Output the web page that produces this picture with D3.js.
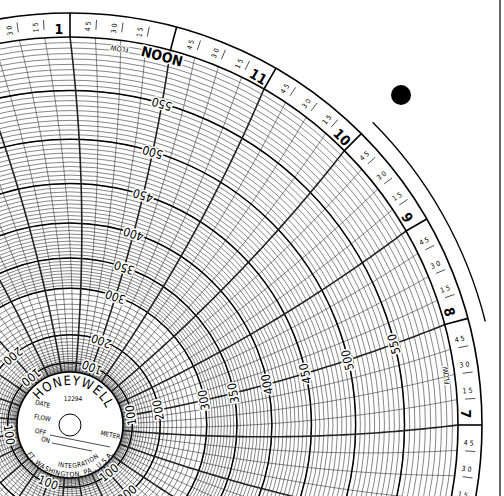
<!doctype html>
<html>
<head>
<meta charset="utf-8">
<script src="https://cdnjs.cloudflare.com/ajax/libs/d3/7.8.5/d3.min.js"></script>
<style>
  body { margin: 0; background: #fff; }
  text { font-family: "DejaVu Sans Condensed", "DejaVu Sans", sans-serif; fill: #000; }
</style>
</head>
<body>
<div id="chart"></div>
<script>
// chart values
var valueLabels = [100, 200, 300, 350, 400, 450, 500, 550];
var valueMax = 600;
var hourNames = ["1","2","3","4","5","6","7","8","9","10","11","NOON",
                 "1","2","3","4","5","6","7","8","9","10","11","MIDNIGHT"];
var hourValues = d3.range(1, 25);          // 1..24
var minuteLabels = ["15", "30", "45"];
var labelEveryHours = [12, 8, 4, 24, 20, 16]; // time lines carrying value labels

var W = 504, H = 496;
var cx = 70, cy = 425;
var hubR = 53, gridR = 388, ringR = 412, armR = 1600;

var svg = d3.select("#chart").append("svg").attr("width", W).attr("height", H);
var g = svg.append("g");

// scales
var r = d3.scalePow().exponent(2).domain([0, valueMax]).range([hubR, gridR]);
// hour -> angle in degrees, clockwise from top (1 o'clock at top, time runs counter-clockwise)
var ang = d3.scaleLinear().domain([13, 12]).range([0, 15]);

function pt(rad, deg) {
  var a = deg * Math.PI / 180;
  return [cx + rad * Math.sin(a), cy - rad * Math.cos(a)];
}
// pen arm curvature offset
function arm(rad) {
  return (Math.asin(gridR / (2 * armR)) - Math.asin(rad / (2 * armR))) * 180 / Math.PI;
}
function timeLine(deg) {
  var pts = d3.range(hubR, gridR + 0.5, 4).concat([gridR]).map(function(rr) {
    return pt(rr, deg + arm(rr));
  });
  return d3.line()(pts);
}

// value circles
var minor = d3.range(20, 300, 10).concat(d3.range(300, valueMax, 5));
g.selectAll(".vmin").data(minor).enter().append("circle")
  .attr("cx", cx).attr("cy", cy).attr("r", function(d) { return r(d); })
  .attr("fill", "none").attr("stroke", "#222").attr("stroke-width", 0.55);
g.selectAll(".vmaj").data(valueLabels).enter().append("circle")
  .attr("cx", cx).attr("cy", cy).attr("r", function(d) { return r(d); })
  .attr("fill", "none").attr("stroke", "#000").attr("stroke-width", 1.5);

// time lines every 15 minutes
var quarters = d3.range(0, 24, 0.25);
g.selectAll(".tmin").data(quarters).enter().append("path")
  .attr("d", function(d) { return timeLine(d * 15); })
  .attr("fill", "none").attr("stroke", "#222")
  .attr("stroke-width", function(d) { return d % 1 === 0 ? 1.6 : 0.55; });

// outer ring
[gridR, ringR].forEach(function(rr) {
  g.append("circle").attr("cx", cx).attr("cy", cy).attr("r", rr)
    .attr("fill", "none").attr("stroke", "#000").attr("stroke-width", 1.6);
});
g.append("path")
  .attr("d", d3.arc().innerRadius(428).outerRadius(428).startAngle(45 * Math.PI / 180).endAngle(76 * Math.PI / 180)())
  .attr("transform", "translate(" + cx + "," + cy + ")")
  .attr("fill", "none").attr("stroke", "#000").attr("stroke-width", 1.4);

// hour ticks and names
hourValues.forEach(function(h) {
  var deg = ang(h);
  var p1 = pt(gridR, deg), p2 = pt(ringR, deg);
  g.append("line").attr("x1", p1[0]).attr("y1", p1[1]).attr("x2", p2[0]).attr("y2", p2[1])
    .attr("stroke", "#000").attr("stroke-width", 1.6);
  var name = hourNames[h - 1];
  var isWord = name.length > 2;
  var lp = pt(isWord ? gridR - 9 : gridR + 7, deg - (isWord ? 1 : 1.6));
  g.append("text").attr("x", lp[0]).attr("y", lp[1])
    .attr("transform", "rotate(" + deg + "," + lp[0] + "," + lp[1] + ")")
    .attr("text-anchor", "middle").attr("dominant-baseline", "middle")
    .attr("font-size", isWord ? 14 : 14).attr("font-weight", "bold")
    .attr("stroke", "#fff").attr("stroke-width", isWord ? 3 : 0).attr("paint-order", "stroke")
    .text(name);
  // minute marks inside the ring
  minuteLabels.forEach(function(m, j) {
    var md = deg - (j + 1) * 15 / 4;
    var t1 = pt(gridR + 8, md), t2 = pt(ringR - 6, md);
    g.append("line").attr("x1", t1[0]).attr("y1", t1[1]).attr("x2", t2[0]).attr("y2", t2[1])
      .attr("stroke", "#000").attr("stroke-width", 0.7);
    var mp = pt(gridR + 12, md - 1.1);
    g.append("text").attr("x", mp[0]).attr("y", mp[1])
      .attr("transform", "rotate(" + (md - 90) + "," + mp[0] + "," + mp[1] + ")")
      .attr("text-anchor", "middle").attr("dominant-baseline", "middle")
      .attr("font-size", 7).attr("letter-spacing", 2).text(m);
  });
});

// value labels on every fourth hour line
labelEveryHours.forEach(function(h) {
  var base = ang(h);
  valueLabels.forEach(function(v) {
    var rr = r(v), deg = base + arm(rr);
    var p = pt(rr, deg);
    g.append("text").attr("x", p[0]).attr("y", p[1])
      .attr("transform", "rotate(" + (deg - 180) + "," + p[0] + "," + p[1] + ")")
      .attr("text-anchor", "middle").attr("dominant-baseline", "middle")
      .attr("font-size", 12)
      .attr("stroke", "#fff").attr("stroke-width", 3).attr("paint-order", "stroke")
      .text(v);
  });
});

// small FLOW marks
[[ang(12.5), gridR - 8], [ang(7.5), gridR - 8]].forEach(function(d) {
  var p = pt(d[1], d[0]);
  g.append("text").attr("x", p[0]).attr("y", p[1])
    .attr("transform", "rotate(" + (d[0] - 180) + "," + p[0] + "," + p[1] + ")")
    .attr("text-anchor", "middle").attr("dominant-baseline", "middle")
    .attr("font-size", 7).attr("stroke", "#fff").attr("stroke-width", 2).attr("paint-order", "stroke")
    .text("FLOW");
});

// hub
var hub = g.append("g").attr("transform", "translate(" + cx + "," + cy + ")");
hub.append("circle").attr("r", hubR).attr("fill", "#fff").attr("stroke", "#000").attr("stroke-width", 1.6);
hub.append("circle").attr("r", 11).attr("fill", "#fff").attr("stroke", "#000").attr("stroke-width", 1);
var defs = svg.append("defs");
defs.append("path").attr("id", "topArc").attr("d", "M -40 0 A 40 40 0 0 1 40 0");
defs.append("path").attr("id", "botArc1").attr("d", "M -38 0 A 38 38 0 0 0 38 0");
defs.append("path").attr("id", "botArc2").attr("d", "M -46 0 A 46 46 0 0 0 46 0");
hub.append("text").attr("font-size", 13).attr("letter-spacing", 1)
  .append("textPath").attr("href", "#topArc").attr("startOffset", "54%").attr("text-anchor", "middle").text("HONEYWELL");
hub.append("text").attr("font-size", 6.5).attr("dy", 5)
  .append("textPath").attr("href", "#botArc1").attr("startOffset", "57%").attr("text-anchor", "middle").text("INTEGRATION");
hub.append("text").attr("font-size", 7).attr("dy", 6)
  .append("textPath").attr("href", "#botArc2").attr("startOffset", "50%").attr("text-anchor", "middle").text("FT. WASHINGTON, PA., U.S.A.");
[["12294", 3, -24, 0], ["DATE", -28, -19, 15], ["FLOW", -28, -5, 10], ["METER", 40, 12, 12], ["OFF", -30, 9, 12], ["ON", -25, 17, 15]]
  .forEach(function(d) {
    hub.append("text").attr("x", d[1]).attr("y", d[2]).attr("font-size", 6.5)
      .attr("text-anchor", "middle").attr("transform", "rotate(" + d[3] + "," + d[1] + "," + d[2] + ")").text(d[0]);
  });
hub.append("line").attr("x1", -20).attr("y1", 10).attr("x2", 40).attr("y2", 22).attr("stroke", "#000").attr("stroke-width", 0.7);
hub.append("line").attr("x1", -18).attr("y1", 18).attr("x2", 22).attr("y2", 26).attr("stroke", "#000").attr("stroke-width", 0.7);

// punch hole and paper edge
svg.append("circle").attr("cx", 401).attr("cy", 95).attr("r", 10).attr("fill", "#000");
svg.append("line").attr("x1", 500).attr("y1", 0).attr("x2", 500).attr("y2", H).attr("stroke", "#000").attr("stroke-width", 1.2);
</script>
</body>
</html>
